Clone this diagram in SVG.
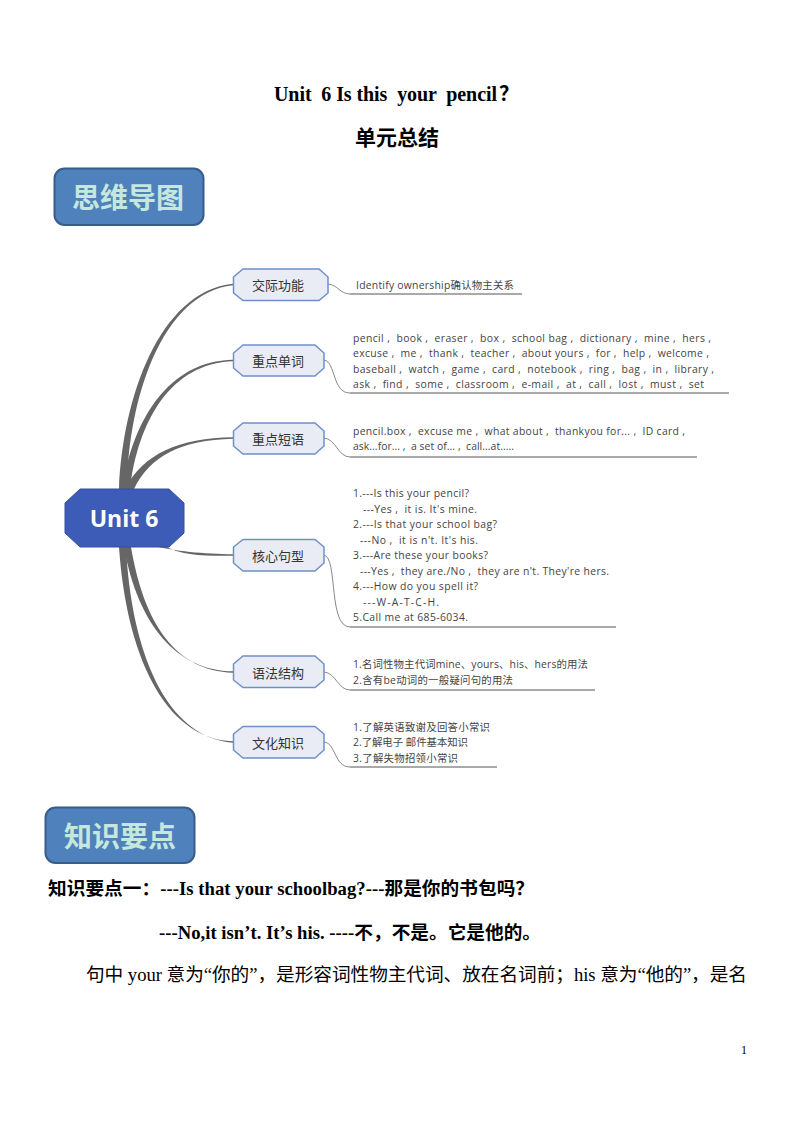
<svg xmlns="http://www.w3.org/2000/svg" width="794" height="1123" viewBox="0 0 794 1123">
<style>
text{white-space:pre}
.doc{font-family:"Liberation Serif","Noto Sans CJK SC",serif;fill:#000}
.b{font-weight:700}
.banner rect{fill:#4f81bd;stroke:#385d8a;stroke-width:2}
.banner text{font-family:"Noto Sans CJK SC",sans-serif;font-weight:700;font-size:28px;fill:#c6e8dc;text-anchor:middle}
.topic polygon{fill:#e9ecf5;stroke:#6f8fcb;stroke-width:1.5}
.topic text{font-family:"Noto Sans CJK SC",sans-serif;font-size:13px;fill:#333;text-anchor:middle}
.leaf{font-family:"Open Sans","Noto Sans CJK SC",sans-serif;font-size:10.4px;fill:#444}
.thick{fill:#666}
.thin{fill:none;stroke:#888;stroke-width:1}
.rule{fill:none;stroke:#555;stroke-width:1}
</style>
<g id="title" class="doc b">
<text x="274" y="101" font-size="20" textLength="223">Unit  6 Is this  your  pencil</text>
<text x="499" y="101" font-size="20">？</text>
<text x="355" y="145" font-size="21">单元总结</text>
</g>
<g id="banner-mindmap" class="banner"><rect x="54.500" y="168.500" width="149" height="56.500" rx="10"/><text x="128" y="208">思维导图</text></g>
<g id="connectors">
<path class="thick" d="M119 489C122.500 399 159 291.500 233 283.800L233 285.200C161 293 128 401 127 489Z"/>
<path class="thick" d="M122 489C133 419 169 361 233 359.800L233 361.200C171 363 138 421 130 489Z"/>
<path class="thick" d="M125 489C143 454 179 438 233 437.300L233 438.700C181 440 150 456 134 489Z"/>
<path class="thick" d="M155 546C172 551 205 554 233 554.300L233 555.700C205 556 180 555.500 165 546Z"/>
<path class="thick" d="M124 547C138 626 178 671 233 671.300L233 672.700C176 671 144 624 131 547Z"/>
<path class="thick" d="M119 547C126 651 163 739 233 741.300L233 742.700C165 737.500 131 649 126 547Z"/>
<path class="thin" d="M328 284C338 285 340 294 350 294"/>
<path class="thin" d="M324 360C336 362 332 393 350 393"/>
<path class="thin" d="M324 438C336 439 338 457 350 457"/>
<path class="thin" d="M324 555C338 558 328 627 350 627"/>
<path class="thin" d="M324 672C336 673 338 690 350 690"/>
<path class="thin" d="M324 742C336 743 334 767 350 767"/>
<path class="rule" d="M350 294H522M350 393H729M350 457H697M350 627H616M350 690H595M350 767H497"/>
</g>
<g id="node-root"><polygon points="80,489 169,489 184,503 184,533 169,547 80,547 65,533 65,503" fill="#3d5cb8" stroke="#35509f"/><text x="124" y="527" text-anchor="middle" font-family="Open Sans,Noto Sans,sans-serif" font-weight="700" font-size="23" fill="#fff">Unit 6</text></g>
<g id="node-1" class="topic"><polygon points="243,269 319,269 328,277 328,293 319,300.500 243,300.500 233.500,293 233.500,277"/><text x="278" y="290">交际功能</text></g>
<g id="node-2" class="topic"><polygon points="243,345 315,345 324,353 324,368 315,376 243,376 233.500,368 233.500,353"/><text x="278" y="365.500">重点单词</text></g>
<g id="node-3" class="topic"><polygon points="243,423 315,423 324,431 324,446 315,454 243,454 233.500,446 233.500,431"/><text x="278" y="444">重点短语</text></g>
<g id="node-4" class="topic"><polygon points="243,539.500 315,539.500 324,547 324,563 315,571 243,571 233.500,563 233.500,547"/><text x="278" y="560.500">核心句型</text></g>
<g id="node-5" class="topic"><polygon points="243,656 315,656 324,664 324,680 315,687.500 243,687.500 233.500,680 233.500,664"/><text x="278" y="677.500">语法结构</text></g>
<g id="node-6" class="topic"><polygon points="243,726.500 315,726.500 324,734 324,750 315,758 243,758 233.500,750 233.500,734"/><text x="278" y="747.500">文化知识</text></g>
<g id="leaf-1" class="leaf"><text x="356" y="289" textLength="158">Identify ownership确认物主关系</text></g>
<g id="leaf-2" class="leaf">
<text x="353" y="341.500" textLength="358">pencil ,  book ,  eraser ,  box ,  school bag ,  dictionary ,  mine ,  hers ,</text>
<text x="353" y="357" textLength="356">excuse ,  me ,  thank ,  teacher ,  about yours ,  for ,  help ,  welcome ,</text>
<text x="353" y="372.500" textLength="361">baseball ,  watch ,  game ,  card ,  notebook ,  ring ,  bag ,  in ,  library ,</text>
<text x="353" y="388" textLength="351">ask ,  find ,  some ,  classroom ,  e-mail ,  at ,  call ,  lost ,  must ,  set</text>
</g>
<g id="leaf-3" class="leaf">
<text x="353" y="434.500" textLength="332">pencil.box ,  excuse me ,  what about ,  thankyou for... ,  ID card ,</text>
<text x="353" y="450" textLength="161">ask...for... ,  a set of... ,  call...at.....</text>
</g>
<g id="leaf-4" class="leaf">
<text x="353" y="497" textLength="116">1.---Is this your pencil?</text>
<text x="363" y="512.500" textLength="114">---Yes ,  it is. It's mine.</text>
<text x="353" y="528" textLength="144">2.---Is that your school bag?</text>
<text x="360" y="543.500" textLength="118">---No ,  it is n't. It's his.</text>
<text x="353" y="559" textLength="135">3.---Are these your books?</text>
<text x="360" y="574.500" textLength="249">---Yes ,  they are./No ,  they are n't. They're hers.</text>
<text x="353" y="590" textLength="125">4.---How do you spell it?</text>
<text x="363" y="605.500" textLength="76">---W-A-T-C-H.</text>
<text x="353" y="621" textLength="115">5.Call me at 685-6034.</text>
</g>
<g id="leaf-5" class="leaf">
<text x="353" y="668" textLength="235">1.名词性物主代词mine、yours、his、hers的用法</text>
<text x="353" y="683.500" textLength="160">2.含有be动词的一般疑问句的用法</text>
</g>
<g id="leaf-6" class="leaf">
<text x="353" y="730.500" textLength="137">1.了解英语致谢及回答小常识</text>
<text x="353" y="746" textLength="115">2.了解电子 邮件基本知识</text>
<text x="353" y="761.500" textLength="105">3.了解失物招领小常识</text>
</g>
<g id="banner-points" class="banner"><rect x="45.500" y="807.500" width="149" height="55.500" rx="10"/><text x="120" y="847">知识要点</text></g>
<g id="body" class="doc" font-size="18.670">
<text class="b" x="48" y="895" textLength="486">知识要点一：---Is that your schoolbag?---那是你的书包吗？</text>
<text class="b" x="159" y="939" textLength="382">---No,it isn’t. It’s his. ----不，不是。它是他的。</text>
<text x="86" y="981" textLength="661">句中 your 意为“你的”，是形容词性物主代词、放在名词前；his 意为“他的”，是名</text>
<text x="741" y="1054" font-size="12">1</text>
</g>
</svg>
